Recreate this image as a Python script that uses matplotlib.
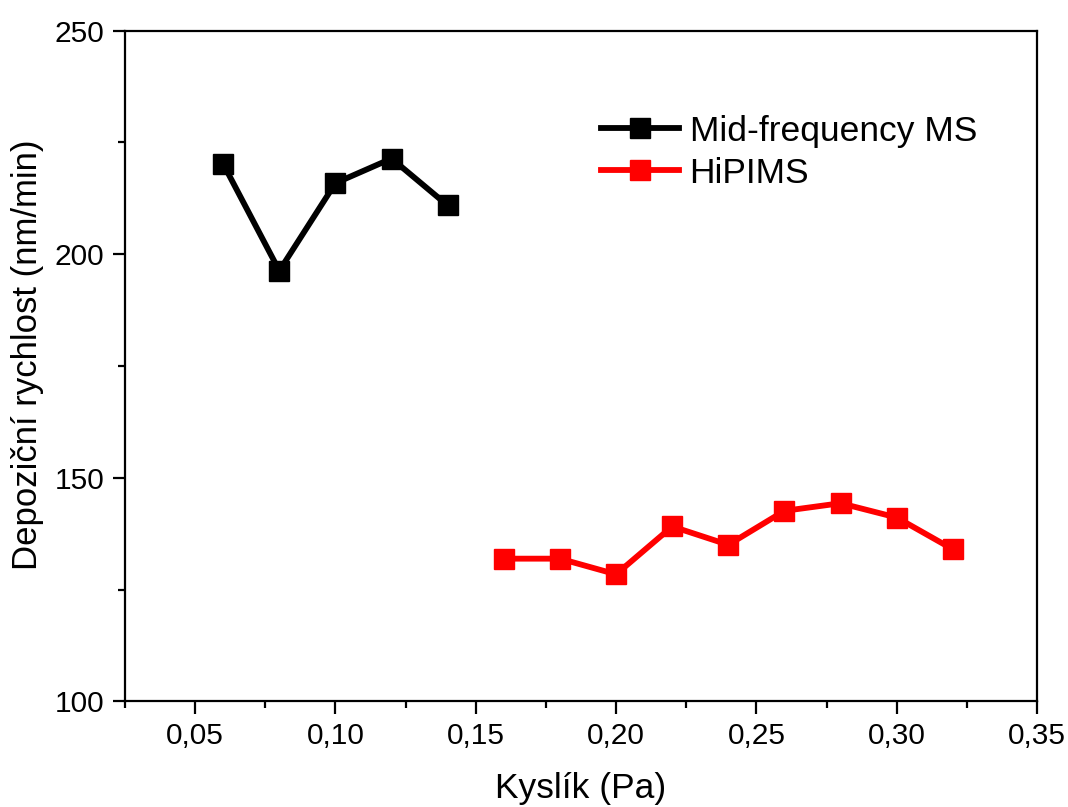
import matplotlib
matplotlib.use("Agg")
import matplotlib.pyplot as plt
from matplotlib.ticker import MultipleLocator, FuncFormatter

plt.rcParams["font.family"] = ["Liberation Sans", "DejaVu Sans"]

# ── data ──────────────────────────────────────────────────────────────
mf_x = [0.06, 0.08, 0.10, 0.12, 0.14]
mf_y = [220.2, 196.3, 215.9, 221.4, 210.9]

hip_x = [0.16, 0.18, 0.20, 0.22, 0.24, 0.26, 0.28, 0.30, 0.32]
hip_y = [131.9, 131.9, 128.4, 139.1, 135.0, 142.6, 144.3, 141.1, 134.0]

mf_label = "Mid-frequency MS"
hip_label = "HiPIMS"
x_label = "Kyslík (Pa)"
y_label = "Depoziční rychlost (nm/min)"

# ── plot ──────────────────────────────────────────────────────────────
fig = plt.figure(figsize=(10.68, 8.07), dpi=100)
ax = fig.add_axes([0.117, 0.131, 0.854, 0.831])

ax.plot(mf_x, mf_y, color="black", lw=4.2, marker="s", ms=14.5, label=mf_label)
ax.plot(hip_x, hip_y, color="red", lw=4.2, marker="s", ms=14.5, label=hip_label)

ax.set_xlim(0.025, 0.35)
ax.set_ylim(100, 250)
ax.xaxis.set_major_locator(MultipleLocator(0.05))
ax.xaxis.set_minor_locator(MultipleLocator(0.025))
ax.yaxis.set_major_locator(MultipleLocator(50))
ax.yaxis.set_minor_locator(MultipleLocator(25))
ax.xaxis.set_major_formatter(FuncFormatter(lambda v, p: f"{v:.2f}".replace(".", ",")))
ax.yaxis.set_major_formatter(FuncFormatter(lambda v, p: f"{v:.0f}"))

for s in ax.spines.values():
    s.set_linewidth(1.6)
ax.tick_params(which="major", direction="out", length=9, width=1.6, labelsize=21.5, pad=6)
ax.tick_params(which="minor", direction="out", length=5, width=1.6)

ax.set_xlabel(x_label, fontsize=25.5, labelpad=16)
ax.set_ylabel(y_label, fontsize=25, labelpad=10)
ax.yaxis.set_label_coords(-0.089, 0.516)

ax.legend(loc="upper left", bbox_to_anchor=(0.487, 0.922), frameon=False,
          fontsize=25.5, handlelength=2.2, handletextpad=0.3, labelspacing=0.25)

fig.savefig("out.png", dpi=100)
